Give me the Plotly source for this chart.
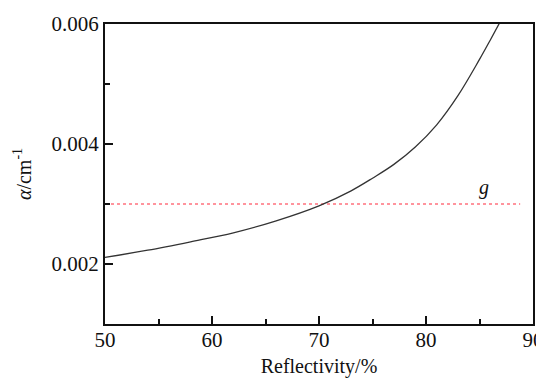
import plotly.graph_objects as go

# Data
reflectivity = [50, 54, 58, 62, 66, 70, 73, 75, 77, 79, 81, 83, 85, 86, 87]
alpha = [0.00211, 0.00223, 0.00237, 0.00252, 0.00272, 0.00297, 0.00322, 0.00343,
         0.00366, 0.00395, 0.00432, 0.00481, 0.00541, 0.00573, 0.00606]
g_x = [50, 88.8]
g_y = [0.003, 0.003]
g_label = "g"
x_ticks = [50, 60, 70, 80, 90]
y_ticks = [0.002, 0.004, 0.006]
y_tick_labels = ["0.002", "0.004", "0.006"]

FONT = "Liberation Serif, Times New Roman, serif"

fig = go.Figure()
fig.add_trace(go.Scatter(x=g_x, y=g_y, mode="lines",
                         line=dict(color="#ff2a3c", width=1.2, dash="dot"),
                         showlegend=False, hoverinfo="skip"))
fig.add_trace(go.Scatter(x=reflectivity, y=alpha, mode="lines",
                         line=dict(color="#333333", width=1.3, shape="spline", smoothing=1),
                         showlegend=False))
fig.add_annotation(x=85.4, y=0.00327, text="<i>" + g_label + "</i>", showarrow=False,
                   xref="x", yref="y", font=dict(family=FONT, size=20, color="#111"))

axis_common = dict(showline=True, linecolor="#111", linewidth=2, mirror=True,
                   ticks="inside", tickwidth=2, tickcolor="#111", showgrid=False,
                   zeroline=False, automargin=False,
                   tickfont=dict(family=FONT, size=21, color="#111"))

fig.update_xaxes(range=[50, 90], tickvals=x_ticks, ticklen=8, ticklabelstandoff=-4,
                 minor=dict(ticks="inside", dtick=5, ticklen=5, tickwidth=2, tickcolor="#111"),
                 title=dict(text="Reflectivity/%", font=dict(family=FONT, size=20, color="#111"), standoff=12),
                 **axis_common)
fig.update_yaxes(range=[0.001, 0.006], tickvals=y_ticks, ticktext=y_tick_labels, ticklen=8,
                 minor=dict(ticks="inside", tickvals=[0.003, 0.005], ticklen=5, tickwidth=2, tickcolor="#111"),
                 title=dict(text="<i>α</i>/cm<sup>-1</sup>", font=dict(family=FONT, size=20, color="#111"), standoff=15),
                 **axis_common)

# The page body has an 8px default margin, so the figure is sized/offset to compensate
fig.update_layout(width=536, height=370, margin=dict(l=97, r=11, t=16, b=54),
                  paper_bgcolor="white", plot_bgcolor="white")
fig.write_html("out.html")
